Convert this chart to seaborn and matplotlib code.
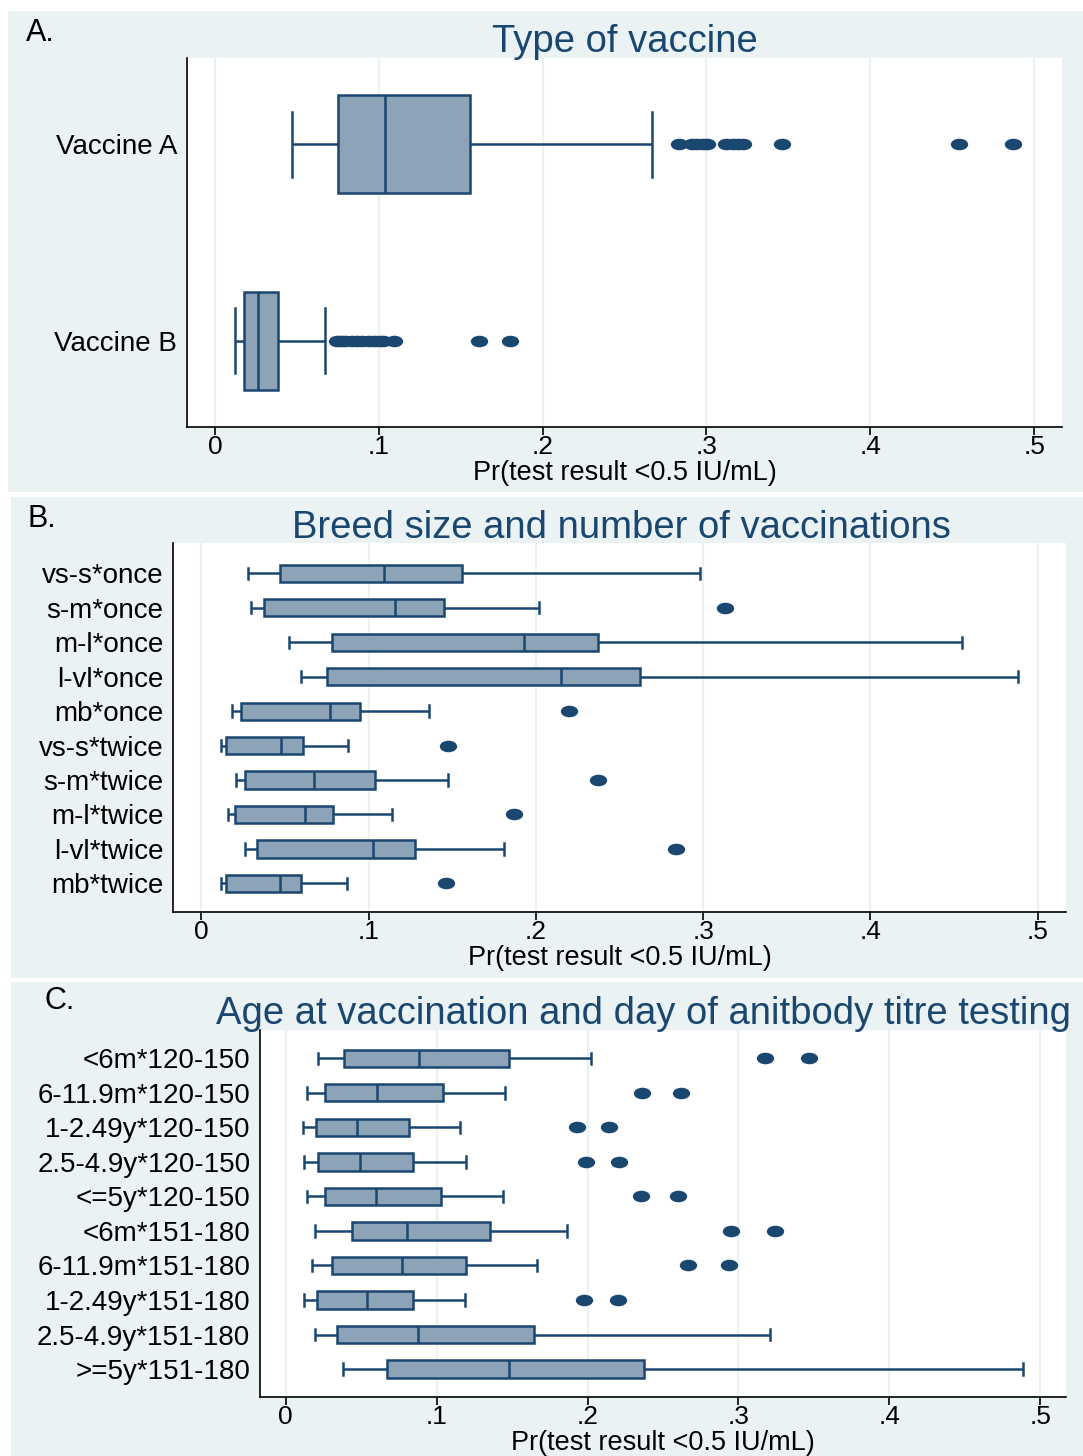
import numpy as np
import pandas as pd
import seaborn as sns
import matplotlib.pyplot as plt
from matplotlib.patches import Rectangle
from matplotlib.path import Path
from matplotlib.transforms import Affine2D

plt.rcParams['font.family'] = ['Liberation Sans', 'DejaVu Sans']

# A. type of vaccine
vacc_labels = ['Vaccine A', 'Vaccine B']
vacc_lo = [0.047, 0.012]
vacc_q1 = [0.075, 0.0175]
vacc_med = [0.104, 0.0265]
vacc_q3 = [0.156, 0.0386]
vacc_hi = [0.267, 0.067]
vacc_out = [[0.2835, 0.291, 0.2945, 0.298, 0.3005, 0.312, 0.316, 0.3195, 0.3225, 0.346, 0.454, 0.487],
            [0.0745, 0.077, 0.0795, 0.0835, 0.087, 0.09, 0.094, 0.097, 0.1, 0.1025, 0.1095, 0.1614, 0.18]]

# B. breed size and number of vaccinations
breed_labels = ['vs-s*once', 's-m*once', 'm-l*once', 'l-vl*once', 'mb*once',
                'vs-s*twice', 's-m*twice', 'm-l*twice', 'l-vl*twice', 'mb*twice']
breed_lo = [0.0276, 0.0297, 0.0524, 0.0594, 0.0185, 0.012, 0.0206, 0.016, 0.026, 0.012]
breed_q1 = [0.047, 0.0375, 0.078, 0.075, 0.0239, 0.0148, 0.026, 0.0198, 0.0334, 0.0144]
breed_med = [0.109, 0.116, 0.193, 0.2148, 0.077, 0.0474, 0.0672, 0.0622, 0.1026, 0.047]
breed_q3 = [0.156, 0.145, 0.237, 0.262, 0.0948, 0.0606, 0.1039, 0.0787, 0.128, 0.0598]
breed_hi = [0.298, 0.202, 0.455, 0.488, 0.136, 0.0878, 0.1476, 0.114, 0.181, 0.087]
breed_out = [[], [0.313], [], [], [0.2197], [0.1476], [0.237], [0.187], [0.284], [0.1463]]

# C. age at vaccination and day of antibody titre testing
age_labels = ['<6m*120-150', '6-11.9m*120-150', '1-2.49y*120-150', '2.5-4.9y*120-150',
              '<=5y*120-150', '<6m*151-180', '6-11.9m*151-180', '1-2.49y*151-180',
              '2.5-4.9y*151-180', '>=5y*151-180']
age_lo = [0.0216, 0.0143, 0.0115, 0.012, 0.0143, 0.0193, 0.0175, 0.012, 0.0193, 0.0382]
age_q1 = [0.0386, 0.0258, 0.0202, 0.0212, 0.0258, 0.0442, 0.0304, 0.0207, 0.034, 0.0672]
age_med = [0.0883, 0.0603, 0.0474, 0.0492, 0.0598, 0.0805, 0.0773, 0.0538, 0.0874, 0.1477]
age_q3 = [0.148, 0.104, 0.0819, 0.0846, 0.103, 0.1352, 0.1196, 0.0846, 0.1647, 0.2373]
age_hi = [0.2024, 0.145, 0.1155, 0.1196, 0.144, 0.1863, 0.1665, 0.1187, 0.3206, 0.4885]
age_out = [[0.3174, 0.3464], [0.2364, 0.2617], [0.1927, 0.2144], [0.1992, 0.2208],
           [0.2355, 0.2599], [0.2953, 0.3243], [0.2668, 0.2939], [0.1978, 0.2199], [], []]

xticks = [0, 0.1, 0.2, 0.3, 0.4, 0.5]
xtick_labels = ['0', '.1', '.2', '.3', '.4', '.5']
xlab = 'Pr(test result <0.5 IU/mL)'

NAVY = '#1A476F'
BOX = '#8DA3B8'
BG = '#EAF2F3'
ELL = Path.unit_circle().transformed(Affine2D().scale(1.5, 1.0))
FS = 20

W, H = 1083, 1456
fig = plt.figure(figsize=(W / 100, H / 100), dpi=100)


def px_rect(l, t, r, b):
    return [l / W, 1 - b / H, (r - l) / W, (b - t) / H]


# panel backgrounds
for l, t, r, b in [(8, 11, 1083, 492), (11, 497, 1083, 978), (11, 982, 1083, 1456)]:
    fig.add_artist(Rectangle((l / W, 1 - b / H), (r - l) / W, (b - t) / H,
                             transform=fig.transFigure, facecolor=BG, edgecolor='none', zorder=0))


def draw_panel(ax, labels, lo, q1, med, q3, hi, outs, ylim):
    box_df = pd.DataFrame({'group': np.repeat(labels, 5),
                           'value': np.column_stack([lo, q1, med, q3, hi]).ravel()})
    out_df = pd.DataFrame({'group': [g for g, o in zip(labels, outs) for _ in o],
                           'value': [v for o in outs for v in o]})
    sns.boxplot(data=box_df, x='value', y='group', order=labels, orient='h',
                whis=(0, 100), width=0.5, color=BOX, saturation=1, linecolor=NAVY,
                linewidth=1.8, showfliers=False, capwidths=0.33, ax=ax)
    sns.stripplot(data=out_df, x='value', y='group', order=labels, orient='h',
                  jitter=False, color=NAVY, size=12.5, marker=ELL, linewidth=0, ax=ax)
    ax.set_xlim(-0.017, 0.517)
    ax.set_ylim(*ylim)
    ax.set_xticks(xticks)
    ax.set_xticklabels(xtick_labels)
    ax.set_facecolor('white')
    ax.grid(axis='x', color=BG, lw=1.6)
    ax.grid(axis='y', visible=False)
    ax.set_axisbelow(True)
    for s in ['top', 'right']:
        ax.spines[s].set_visible(False)
    for s in ['left', 'bottom']:
        ax.spines[s].set_color('black')
        ax.spines[s].set_linewidth(1.2)
    ax.tick_params(axis='x', length=5.5, width=1.2, direction='out', labelsize=19, pad=0.5)
    ax.tick_params(axis='y', length=0, labelsize=FS, pad=7)
    ax.set_xlabel(xlab, fontsize=19.5, labelpad=0.5)
    ax.set_ylabel('')


ax_a = fig.add_axes(px_rect(187, 58, 1062, 427))
draw_panel(ax_a, vacc_labels, vacc_lo, vacc_q1, vacc_med, vacc_q3, vacc_hi, vacc_out, (1.437, -0.437))

ax_b = fig.add_axes(px_rect(173, 543, 1066, 912))
draw_panel(ax_b, breed_labels, breed_lo, breed_q1, breed_med, breed_q3, breed_hi, breed_out, (9.83, -0.88))

ax_c = fig.add_axes(px_rect(260, 1030, 1066, 1397))
draw_panel(ax_c, age_labels, age_lo, age_q1, age_med, age_q3, age_hi, age_out, (9.81, -0.82))

# titles and panel letters
fig.text(625 / W, 1 - 42 / H, 'Type of vaccine', ha='center', va='center', fontsize=27.5, color=NAVY)
fig.text(621 / W, 1 - 528 / H, 'Breed size and number of vaccinations', ha='center', va='center',
         fontsize=27.5, color=NAVY)
fig.text(643 / W, 1 - 1014 / H, 'Age at vaccination and day of anitbody titre testing', ha='center',
         va='center', fontsize=27.5, color=NAVY)
fig.text(26 / W, 1 - 33 / H, 'A.', va='center', fontsize=22)
fig.text(27 / W, 1 - 519 / H, 'B.', va='center', fontsize=22)
fig.text(44 / W, 1 - 1001 / H, 'C.', va='center', fontsize=22)

fig.savefig('out.png', dpi=100, facecolor='white')
